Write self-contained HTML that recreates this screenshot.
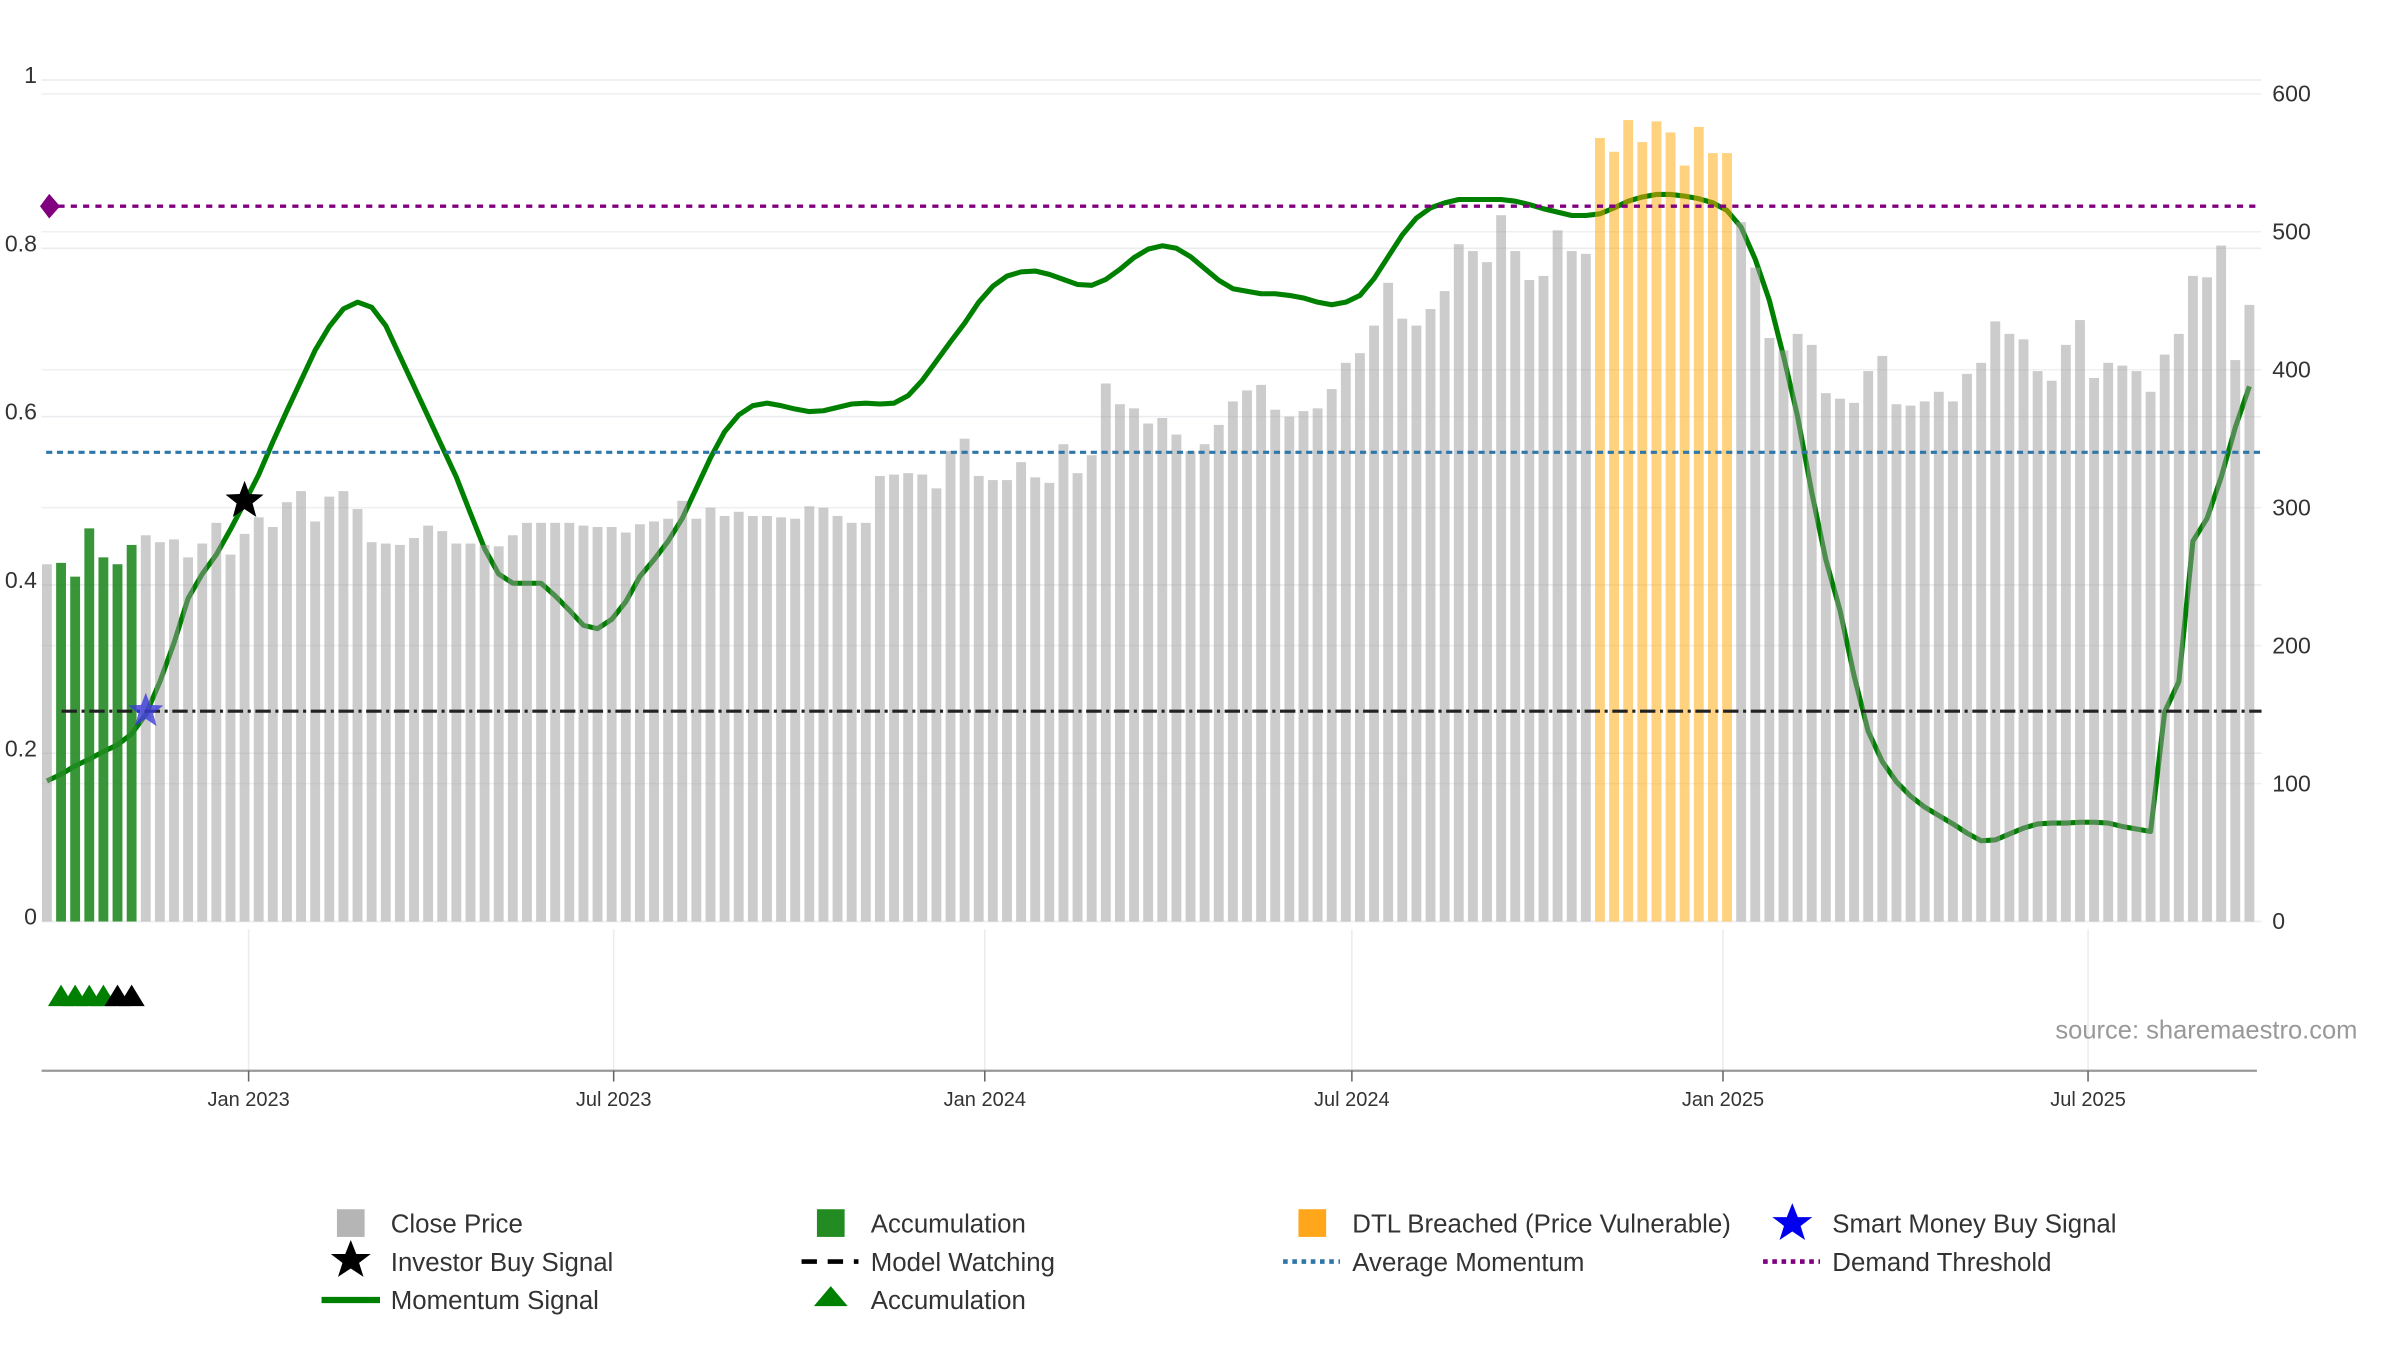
<!DOCTYPE html>
<html><head><meta charset="utf-8">
<style>
html,body{margin:0;padding:0;background:#fff;}
svg{display:block;font-family:"Liberation Sans","DejaVu Sans",sans-serif;}
</style></head>
<body>
<svg id="chart" width="2400" height="1350" viewBox="0 0 1560 877.5" xmlns="http://www.w3.org/2000/svg">
  <g id="grid"></g>
  <g id="momentum"></g>
  <g id="bars"></g>
  <g id="refs"></g>
  <g id="markers"></g>
  <g id="axes"></g>
  <text x="1336" y="675" font-size="16.6" fill="#999">source: sharemaestro.com</text>
  <g id="legend" font-size="16.8" fill="#333">
    <rect x="219" y="786" width="18" height="18" fill="#b5b5b5"/>
    <text x="254" y="801">Close Price</text>
    <rect x="531" y="786" width="18" height="18" fill="#228b22"/>
    <text x="566" y="801">Accumulation</text>
    <rect x="844" y="786" width="18" height="18" fill="#ffa61a"/>
    <text x="879" y="801">DTL Breached (Price Vulnerable)</text>
    <polygon fill="#0000ee" points="1165,782 1168.6,791.1 1178,791.1 1170.4,796.9 1173.3,806 1165,800.5 1156.7,806 1159.6,796.9 1152,791.1 1161.4,791.1"/>
    <text x="1191" y="801">Smart Money Buy Signal</text>
    <polygon fill="#000" points="228,806 231.6,815.1 241,815.1 233.4,820.9 236.3,830 228,824.5 219.7,830 222.6,820.9 215,815.1 224.4,815.1"/>
    <text x="254" y="826">Investor Buy Signal</text>
    <line x1="521" y1="820" x2="558" y2="820" stroke="#000" stroke-width="3" stroke-dasharray="10,7"/>
    <text x="566" y="826">Model Watching</text>
    <line x1="834" y1="820" x2="871" y2="820" stroke="#2f77a8" stroke-width="3" stroke-dasharray="3,3"/>
    <text x="879" y="826">Average Momentum</text>
    <line x1="1146" y1="820" x2="1183" y2="820" stroke="#800080" stroke-width="3" stroke-dasharray="3,3"/>
    <text x="1191" y="826">Demand Threshold</text>
    <line x1="209" y1="845" x2="247" y2="845" stroke="#008000" stroke-width="4"/>
    <text x="254" y="851">Momentum Signal</text>
    <polygon points="540,836 551,849 529,849" fill="#008000"/>
    <text x="566" y="851">Accumulation</text>
  </g>
</svg>
<script>
// ---- data ----
const startDate = "2022-09-23";
const closePrices = [259,260,250,285,264,259,273,280,275,277,264,274,289,266,281,293,286,304,312,290,308,312,299,275,274,273,278,287,283,274,274,273,272,280,289,289,289,289,287,286,286,282,288,
290,292,305,292,300,294,297,294,294,293,292,301,300,294,289,289,323,324,325,324,314,341,350,323,320,320,333,322,318,346,325,338,390,375,372,361,365,353,341,346,360,377,
385,389,371,366,370,372,386,405,412,432,463,437,432,444,457,491,486,478,512,486,465,468,501,486,484,
568,558,581,565,580,572,548,576,557,557,
507,474,423,414,426,418,383,
379,376,399,410,375,374,377,384,377,397,405,435,426,422,399,392,418,436,394,405,403,399,384,411,426,468,467,490,407,447];
const momentumValues = [.167,.175,.185,.193,.202,.210,.223,.246,.285,.331,.384,.413,.436,.466,.498,.531,.570,.607,.643,.679,.707,.728,.736,.730,.708,.672,.636,.600,.564,.528,.485,.443,.413,.402,.402,.402,.387,.370,.352,.348,.359,.380,.410,
.430,.452,.479,.515,.551,.582,.602,.613,.616,.613,.609,.606,.607,.611,.615,.616,.615,.616,.625,.643,.666,.689,.711,.736,.755,.767,.772,.773,.769,.763,.757,.756,.763,.775,.789,.799,.803,.800,.790,.776,.762,.752,
.749,.746,.746,.744,.741,.736,.733,.736,.744,.764,.790,.816,.836,.848,.854,.858,.858,.858,.858,.856,.852,.847,.843,.839,.839,.841,.848,.856,.861,.864,.864,.862,.859,.854,.845,.825,.787,.738,.672,.600,.510,.430,
.370,.292,.226,.190,.166,.149,.136,.126,.116,.105,.096,.097,.104,.111,.116,.117,.117,.118,.118,.117,.113,.110,.107,.249,.285,.452,.479,.528,.587,.636];
const accumulationBars = [1,2,3,4,5,6];
const dtlBars = [110,111,112,113,114,115,116,117,118,119];
const accTriGreen = [1,2,3,4];
const accTriBlack = [5,6];
const investorSignal = [14];
const smartMoneySignal = [7];
const smartMoneyValue = [0.25];
const investorValue = [0.5];
const demandThreshold = [0.85];
const averageMomentum = [0.5576];
const modelWatching = [0.25];
const leftTicks = [0,0.2,0.4,0.6,0.8,1];
const leftTickLabels = ["0","0.2","0.4","0.6","0.8","1"];
const rightTicks = [0,100,200,300,400,500,600];
const dateTicks = ["2023-01-01","2023-07-01","2024-01-01","2024-07-01","2025-01-01","2025-07-01"];
const dateTickLabels = ["Jan 2023","Jul 2023","Jan 2024","Jul 2024","Jan 2025","Jul 2025"];

// ---- scales ----
const NS="http://www.w3.org/2000/svg";
const DAY=86400000, ORIGIN=Date.UTC(2023,0,1);
function dayOf(s){const p=s.split("-");return (Date.UTC(+p[0],+p[1]-1,+p[2])-ORIGIN)/DAY;}
function xDay(d){return 161.6+d*1.311;}
function xBar(i){return xDay(dayOf(startDate)+7*i);}
function yL(v){return 599-547*v;}
function yR(p){return 599-p*0.8967;}
const PL=27, PR=1470;
function mk(tag,attrs,parent){const e=document.createElementNS(NS,tag);for(const k in attrs)e.setAttribute(k,attrs[k]);parent.appendChild(e);return e;}

const grid=document.getElementById('grid');
leftTicks.forEach(v=>{
  const l=mk('line',{x1:PL,x2:PR,y1:yL(v),y2:yL(v),stroke:'#ececf0','stroke-width':1},grid);
  
  
});
rightTicks.forEach(v=>{
  const l=mk('line',{x1:PL,x2:PR,y1:yR(v),y2:yR(v),stroke:'#f0f0f3','stroke-width':1},grid);
  
  
});
dateTicks.forEach(d=>{
  const x=xDay(dayOf(d));
  const l=mk('line',{x1:x,x2:x,y1:604,y2:696,stroke:'#ececf0','stroke-width':1},grid);
  
  
});

// momentum line
const mg=document.getElementById('momentum');
const pts=momentumValues.map((v,i)=>xBar(i).toFixed(2)+','+yL(v).toFixed(2)).join(' ');
const pl=mk('polyline',{points:pts,fill:'none',stroke:'#008000','stroke-width':3.3,'stroke-linejoin':'round'},mg);



// bars
const bg=document.getElementById('bars');
closePrices.forEach((p,i)=>{
  let fill='#999999',op=0.5;
  if(accumulationBars.includes(i)){fill='#228b22';op=0.9;}
  if(dtlBars.includes(i)){fill='#ffa500';op=0.5;}
  const x=xBar(i);
  const r=mk('rect',{x:(x-3.2).toFixed(2),y:yR(p).toFixed(2),width:6.4,height:(599-yR(p)).toFixed(2),fill:fill,'fill-opacity':op},bg);
  
  
});

// reference lines
const rg=document.getElementById('refs');
const dy=yL(demandThreshold[0]);
const dl=mk('line',{x1:30,x2:1470,y1:dy,y2:dy,stroke:'#800080','stroke-width':2.2,'stroke-dasharray':'4,4'},rg);


const dd=mk('polygon',{points:`26,${dy} 32,${dy-8} 39,${dy} 32,${dy+8}`,fill:'#800080'},rg);


const al=mk('line',{x1:30,x2:1470,y1:yL(averageMomentum[0]),y2:yL(averageMomentum[0]),stroke:'#2f77a8','stroke-width':2,'stroke-dasharray':'4,3'},rg);


const ml=mk('line',{x1:40,x2:1470,y1:yL(modelWatching[0]),y2:yL(modelWatching[0]),stroke:'#222','stroke-width':2,'stroke-dasharray':'10,3,2,3'},rg);



// markers
const mkg=document.getElementById('markers');
function star(cx,cy,R,fill,op){
  const r=R*0.42;let s=[];
  for(let k=0;k<10;k++){const a=-Math.PI/2+k*Math.PI/5;const rr=k%2?r:R;s.push((cx+rr*Math.cos(a)).toFixed(2)+','+(cy+rr*Math.sin(a)).toFixed(2));}
  return mk('polygon',{points:s.join(' '),fill:fill,'fill-opacity':op},mkg);
}
investorSignal.forEach((i,k)=>{
  const s=star(xBar(i),yL(investorValue[k]),13,'#000',1);
  
  
});
smartMoneySignal.forEach((i,k)=>{
  const s=star(xBar(i),yL(smartMoneyValue[k]),12,'#3b3bd9',0.8);
  
  
});
function tri(i,fill){
  const x=xBar(i);
  return mk('polygon',{points:`${x},640 ${x+8.5},654 ${x-8.5},654`,fill:fill},mkg);
}
accTriGreen.forEach(i=>{const t=tri(i,'#008000');
  
  });
accTriBlack.forEach(i=>{const t=tri(i,'#000');
  
  });

// axes
const ax=document.getElementById('axes');
const xl=mk('line',{x1:PL,x2:1467,y1:696,y2:696,stroke:'#999','stroke-width':1.5},ax);


dateTicks.forEach((d,k)=>{
  const x=xDay(dayOf(d));
  const t=mk('line',{x1:x,x2:x,y1:696,y2:703,stroke:'#666','stroke-width':1},ax);
  
  
  const tx=mk('text',{x:x,y:719,'text-anchor':'middle','font-size':13,fill:'#333'},ax);
  tx.textContent=dateTickLabels[k];
  
  
});
leftTicks.forEach((v,k)=>{
  const tx=mk('text',{x:24,y:yL(v)+2,'text-anchor':'end','font-size':15,fill:'#333'},ax);
  tx.textContent=leftTickLabels[k];
  
  
});
rightTicks.forEach(v=>{
  const tx=mk('text',{x:1477,y:yR(v)+5,'font-size':15,fill:'#333'},ax);
  tx.textContent=String(v);
  
  
});
</script>
</body></html>
